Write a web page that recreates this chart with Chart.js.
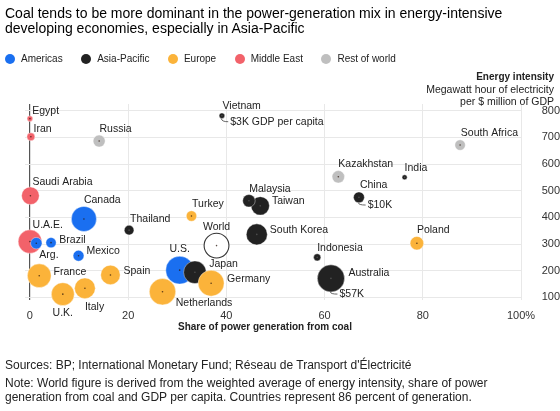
<!DOCTYPE html>
<html><head><meta charset="utf-8">
<script src="https://cdn.jsdelivr.net/npm/chart.js@4.4.1/dist/chart.umd.min.js"></script>
<style>
body{margin:0;width:560px;height:411px;overflow:hidden;background:#fff;font-family:"Liberation Sans",Arial,sans-serif;color:#222;position:relative}
canvas{position:absolute;left:0;top:0}
.title{position:absolute;left:5px;top:5.5px;font-size:14px;line-height:15px;color:#000;white-space:nowrap}
#legend{position:absolute;left:5px;top:52.7px;height:12px;display:flex;align-items:center;font-size:10px;color:#222;white-space:nowrap}
#legend .it{display:flex;align-items:center;margin-right:18.5px}
#legend .dot{width:10px;height:10px;border-radius:50%;margin-right:6px}
.yt{position:absolute;right:6px;top:70px;text-align:right;font-size:10.5px;line-height:12px;color:#222;white-space:nowrap}
.yt b{font-size:10px}
.xt{position:absolute;left:178px;top:320px;font-size:10px;font-weight:bold;line-height:13px;color:#222;white-space:nowrap}
.foot{position:absolute;left:5px;top:358px;font-size:12px;line-height:14px;color:#222;white-space:nowrap}
.note{top:376.3px}
</style></head>
<body>
<canvas id="c" width="560" height="411"></canvas>
<div class="title">Coal tends to be more dominant in the power-generation mix in energy-intensive<br>developing economies, especially in Asia-Pacific</div>
<div id="legend"></div>
<div class="yt"><b>Energy intensity</b><br>Megawatt hour of electricity<br>per $ million of GDP</div>
<div class="xt">Share of power generation from coal</div>
<div class="foot">Sources: BP; International Monetary Fund; Réseau de Transport d'Électricité</div>
<div class="foot note">Note: World figure is derived from the weighted average of energy intensity, share of power<br>generation from coal and GDP per capita. Countries represent 86 percent of generation.</div>
<script>
// ---- Data ----
const regions = ['Americas', 'Asia-Pacific', 'Europe', 'Middle East', 'Rest of world'];

const americasNames = ['U.S.', 'Canada', 'Arg.', 'Mexico', 'Brazil'];
const americasCoal = [30.5, 11.0, 1.3, 9.9, 4.3];
const americasIntensity = [202, 394, 303, 256, 305];
const americasGdp = [60, 49, 11, 10, 9];

const asiaNames = ['Australia', 'Japan', 'South Korea', 'Taiwan', 'Malaysia', 'China', 'Thailand', 'Indonesia', 'Vietnam', 'India'];
const asiaCoal = [61.3, 33.6, 46.2, 46.9, 44.6, 67.0, 20.2, 58.5, 39.1, 76.3];
const asiaIntensity = [171, 194, 336, 443, 462, 475, 352, 250, 781, 550];
const asiaGdp = [57, 40, 35, 27, 13, 10, 8, 4.7, 3, 2.5];

const europeNames = ['Netherlands', 'Germany', 'France', 'U.K.', 'Italy', 'Spain', 'Poland', 'Turkey'];
const europeCoal = [27.0, 36.9, 1.9, 6.7, 11.2, 16.4, 78.8, 32.9];
const europeIntensity = [121, 153, 181, 112, 134, 184, 303, 405];
const europeGdp = [54, 52, 44, 41, 34, 30, 15, 9.3];

const middleEastNames = ['U.A.E.', 'Saudi Arabia', 'Iran', 'Egypt'];
const middleEastCoal = [0, 0.1, 0.2, 0];
const middleEastIntensity = [309, 481, 702, 770];
const middleEastGdp = [43, 25, 5.6, 3];

const restNames = ['Russia', 'Kazakhstan', 'South Africa'];
const restCoal = [14.1, 62.8, 87.6];
const restIntensity = [686, 552, 671];
const restGdp = [12, 12.8, 9.3];

const worldNames = ['World'];
const worldCoal = [38.0];
const worldIntensity = [294];
const worldGdp = [48];

const gdpNotes = {'Vietnam': '$3K GDP per capita', 'China': '$10K', 'Australia': '$57K'};

const xTicks = [0, 20, 40, 60, 80, 100];
const yTicks = [100, 200, 300, 400, 500, 600, 700, 800];

// ---- Styles ----
const regionColors = ['#1a6ff0', '#222222', '#fbb33a', '#f2626a', '#bfbfbf'];
const labelPlace = {
  'Egypt': [2.3, -7.3], 'Iran': [2.6, -7.7], 'Saudi Arabia': [2, -13.4], 'U.A.E.': [2.7, -16],
  'Canada': [0, -19], 'Brazil': [8.3, -2.7], 'Arg.': [3, 11.7], 'Mexico': [8, -4.7], 'U.S.': ['c', -21],
  'France': [14.3, -4], 'Spain': [13, -4], 'U.K.': ['c', 19.3], 'Italy': [0, 18.4], 'Netherlands': [13.2, 11.6],
  'Germany': [16, -4.3], 'Turkey': [0.6, -11.7], 'Poland': [0, -13.3], 'Thailand': [1, -11],
  'Malaysia': [0.3, -11.4], 'Taiwan': [11.7, -4.4], 'South Korea': [13, -4.3], 'Japan': [14.3, -8.3],
  'Vietnam': [0.6, -9.7], 'China': [1, -12.3], 'India': [0, -9.6], 'Indonesia': [0, -9.6],
  'Australia': [17.5, -5.6], 'Russia': [0.3, -12], 'Kazakhstan': [0, -12.7], 'South Africa': [0.7, -11.7],
  'World': ['c', -18.4]
};
const notePlace = {'Vietnam': [8.3, 6], 'China': [8.7, 7.7], 'Australia': [8.5, 15.7]};

const radiusOf = g => 1.85 * Math.sqrt(g) - 0.4;
const pts = (coal, inten, gdp) => coal.map((c, i) => ({x: c, y: inten[i], r: radiusOf(gdp[i])}));

const groups = [
  [americasNames, americasCoal, americasIntensity, americasGdp, 3],
  [asiaNames, asiaCoal, asiaIntensity, asiaGdp, 2],
  [europeNames, europeCoal, europeIntensity, europeGdp, 1],
  [middleEastNames, middleEastCoal, middleEastIntensity, middleEastGdp, 4],
  [restNames, restCoal, restIntensity, restGdp, 5]
];
const datasets = groups.map((g, k) => ({
  label: regions[k], names: g[0], data: pts(g[1], g[2], g[3]), order: g[4], clip: false,
  backgroundColor: regionColors[k], borderColor: '#ffffff', borderWidth: 0.4
}));
datasets.push({label: 'World', names: worldNames, data: pts(worldCoal, worldIntensity, worldGdp), order: 0, clip: false,
  backgroundColor: '#ffffff', borderColor: '#333333', borderWidth: 1.1});

// HTML legend
const lg = document.getElementById('legend');
regions.forEach((r, k) => {
  const it = document.createElement('div'); it.className = 'it';
  const d = document.createElement('span'); d.className = 'dot'; d.style.background = regionColors[k];
  const t = document.createElement('span'); t.textContent = r;
  it.appendChild(d); it.appendChild(t); lg.appendChild(it);
});

const labelPlugin = {
  id: 'labels',
  afterDatasetsDraw(chart) {
    const ctx = chart.ctx;
    ctx.save();
    chart.data.datasets.forEach((ds, di) => {
      const meta = chart.getDatasetMeta(di);
      meta.data.forEach((el, i) => {
        ctx.beginPath();
        ctx.fillStyle = di === 1 ? 'rgba(90,90,90,0.8)' : 'rgba(40,20,10,0.75)';
        ctx.arc(el.x, el.y, 0.8, 0, Math.PI * 2);
        ctx.fill();
      });
    });
    ctx.font = '10.5px "Liberation Sans", Arial, sans-serif';
    ctx.fillStyle = '#222';
    ctx.textBaseline = 'middle';
    chart.data.datasets.forEach((ds, di) => {
      const meta = chart.getDatasetMeta(di);
      meta.data.forEach((el, i) => {
        const name = ds.names[i];
        const p = labelPlace[name];
        if (!p) return;
        if (p[0] === 'c') { ctx.textAlign = 'center'; ctx.fillText(name, el.x, el.y + p[1]); }
        else { ctx.textAlign = 'left'; ctx.fillText(name, el.x + p[0], el.y + p[1]); }
        if (gdpNotes[name]) {
          const n = notePlace[name];
          const r = el.options.radius;
          const tx = el.x + n[0], ty = el.y + n[1];
          ctx.beginPath();
          ctx.strokeStyle = '#555'; ctx.lineWidth = 0.9;
          ctx.moveTo(el.x - 0.5, el.y + r);
          ctx.quadraticCurveTo(el.x - 0.5, ty, tx - 2, ty);
          ctx.stroke();
          ctx.textAlign = 'left';
          ctx.fillText(gdpNotes[name], tx, ty);
        }
      });
    });
    ctx.restore();
  }
};

new Chart(document.getElementById('c'), {
  type: 'bubble',
  data: {datasets},
  plugins: [labelPlugin],
  options: {
    responsive: false, animation: false, events: [],
    layout: {padding: {top: 104, left: 25, right: 0, bottom: 91}},
    plugins: {legend: {display: false}, tooltip: {enabled: false}},
    scales: {
      x: {
        type: 'linear', min: -1, max: 100,
        afterBuildTicks: a => { a.ticks = xTicks.map(v => ({value: v})); },
        afterFit: s => { s.height = 20; },
        border: {display: false},
        grid: {drawTicks: false, color: c => c.tick && c.tick.value === 0 ? '#555' : '#e8e8e8', lineWidth: c => c.tick && c.tick.value === 0 ? 1.2 : 1},
        ticks: {padding: 9, color: '#333', font: {size: 11, family: '"Liberation Sans", Arial, sans-serif'},
          callback: v => v === 100 ? '100%' : String(v)}
      },
      y: {
        type: 'linear', position: 'right', min: 90, max: 825,
        afterBuildTicks: a => { a.ticks = yTicks.map(v => ({value: v})); },
        afterFit: s => { s.width = 39; },
        border: {display: false},
        grid: {drawTicks: false, color: '#e8e8e8'},
        ticks: {padding: 14, crossAlign: 'far', color: '#333', font: {size: 11, family: '"Liberation Sans", Arial, sans-serif'}}
      }
    }
  }
});
</script>
</body></html>
